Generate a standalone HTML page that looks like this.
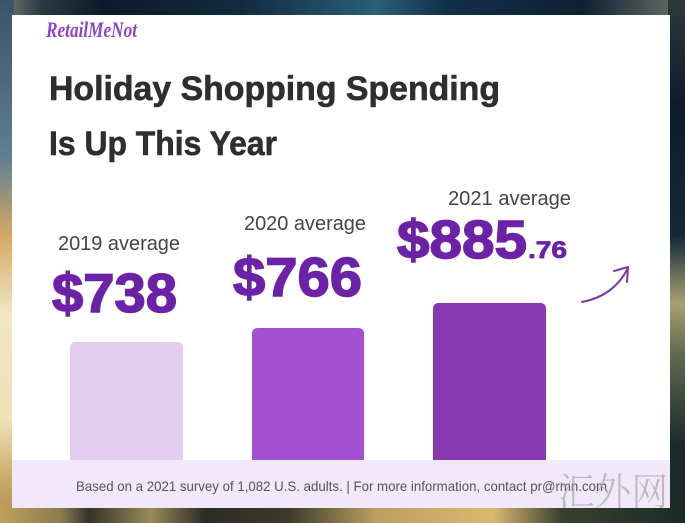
<!DOCTYPE html>
<html><head><meta charset="utf-8"><style>
html,body{margin:0;padding:0;width:685px;height:523px;overflow:hidden;background:#1c2c3a;}
svg{display:block}
</style></head><body>
<svg width="685" height="523" viewBox="0 0 685 523" xmlns="http://www.w3.org/2000/svg">
<defs>
<linearGradient id="lg" x1="0" y1="0" x2="0" y2="1">
<stop offset="0" stop-color="#3a5468"/>
<stop offset="0.3" stop-color="#5f7f90"/>
<stop offset="0.45" stop-color="#d4a864"/>
<stop offset="0.6" stop-color="#f0e6c4"/>
<stop offset="0.8" stop-color="#efe2b8"/>
<stop offset="0.92" stop-color="#c8a866"/>
<stop offset="1" stop-color="#b09050"/>
</linearGradient>
<linearGradient id="rg" x1="0" y1="0" x2="0" y2="1">
<stop offset="0" stop-color="#2a3a3c"/>
<stop offset="0.2" stop-color="#0e1c2c"/>
<stop offset="0.45" stop-color="#14283a"/>
<stop offset="0.58" stop-color="#a8a070"/>
<stop offset="0.68" stop-color="#606850"/>
<stop offset="0.85" stop-color="#1a2a2c"/>
<stop offset="1" stop-color="#1c2826"/>
</linearGradient>
<linearGradient id="tg" x1="0" y1="0" x2="1" y2="0">
<stop offset="0" stop-color="#7a8078"/>
<stop offset="0.06" stop-color="#2a3a44"/>
<stop offset="0.15" stop-color="#0c1a2a"/>
<stop offset="0.35" stop-color="#122a40"/>
<stop offset="0.55" stop-color="#2a6078"/>
<stop offset="0.65" stop-color="#12304a"/>
<stop offset="0.85" stop-color="#0e2034"/>
<stop offset="1" stop-color="#6a7468"/>
</linearGradient>
<linearGradient id="bg" x1="0" y1="0" x2="1" y2="0">
<stop offset="0" stop-color="#c0a058"/>
<stop offset="0.09" stop-color="#8a7a50"/>
<stop offset="0.13" stop-color="#343428"/>
<stop offset="0.22" stop-color="#9a8a58"/>
<stop offset="0.3" stop-color="#2c2c26"/>
<stop offset="0.42" stop-color="#3a3a2c"/>
<stop offset="0.55" stop-color="#bca060"/>
<stop offset="0.72" stop-color="#d8b870"/>
<stop offset="0.82" stop-color="#3a4030"/>
<stop offset="1" stop-color="#1c2a26"/>
</linearGradient>
</defs>
<rect x="0" y="0" width="685" height="523" fill="#1c2c3a"/>
<rect x="0" y="0" width="685" height="20" fill="url(#tg)"/>
<rect x="0" y="0" width="14" height="523" fill="url(#lg)"/>
<rect x="668" y="0" width="17" height="523" fill="url(#rg)"/>
<rect x="0" y="505" width="685" height="18" fill="url(#bg)"/>

<!-- card -->
<rect x="12" y="15" width="658" height="493" fill="#ffffff"/>
<rect x="12" y="460" width="658" height="48" fill="#f1e8f9"/>

<!-- logo -->
<text x="46" y="37" font-family="Liberation Serif, serif" font-style="italic" font-weight="bold" font-size="22" fill="#8e44c4" textLength="91" lengthAdjust="spacingAndGlyphs">RetailMeNot</text>

<!-- title -->
<text x="49" y="100" font-family="Liberation Sans, sans-serif" font-weight="bold" font-size="34" fill="#2e2e2e" stroke="#2e2e2e" stroke-width="0.6" textLength="451" lengthAdjust="spacingAndGlyphs">Holiday Shopping Spending</text>
<text x="49" y="155" font-family="Liberation Sans, sans-serif" font-weight="bold" font-size="34" fill="#2e2e2e" stroke="#2e2e2e" stroke-width="0.6" textLength="228" lengthAdjust="spacingAndGlyphs">Is Up This Year</text>

<!-- labels -->
<text x="58" y="250" font-family="Liberation Sans, sans-serif" font-size="20" fill="#444444" textLength="122" lengthAdjust="spacingAndGlyphs">2019 average</text>
<text x="244" y="230" font-family="Liberation Sans, sans-serif" font-size="20" fill="#444444" textLength="122" lengthAdjust="spacingAndGlyphs">2020 average</text>
<text x="448" y="205" font-family="Liberation Sans, sans-serif" font-size="20" fill="#444444" textLength="123" lengthAdjust="spacingAndGlyphs">2021 average</text>

<!-- values -->
<text x="52" y="312" font-family="Liberation Sans, sans-serif" font-weight="bold" font-size="55" fill="#6c22a6" stroke="#6c22a6" stroke-width="1.5" textLength="125" lengthAdjust="spacingAndGlyphs">$738</text>
<text x="233" y="296" font-family="Liberation Sans, sans-serif" font-weight="bold" font-size="55" fill="#6c22a6" stroke="#6c22a6" stroke-width="1.5" textLength="129" lengthAdjust="spacingAndGlyphs">$766</text>
<text x="397" y="258" font-family="Liberation Sans, sans-serif" font-weight="bold" font-size="54" fill="#6c22a6" stroke="#6c22a6" stroke-width="1.5" textLength="130" lengthAdjust="spacingAndGlyphs">$885</text>
<text x="528" y="258" font-family="Liberation Sans, sans-serif" font-weight="bold" font-size="24" fill="#6c22a6" stroke="#6c22a6" stroke-width="0.8" textLength="39" lengthAdjust="spacingAndGlyphs">.76</text>

<!-- arrow -->
<path d="M582,302 Q614,296 628,268" fill="none" stroke="#7a3aa8" stroke-width="2" stroke-linecap="round"/>
<path d="M614,271 L628,267 L627,282" fill="none" stroke="#7a3aa8" stroke-width="2" stroke-linecap="round" stroke-linejoin="round"/>

<!-- bars -->
<path d="M70,460 V348 Q70,342 76,342 H177 Q183,342 183,348 V460 Z" fill="#e2cdf0"/>
<path d="M252,460 V334 Q252,328 258,328 H358 Q364,328 364,334 V460 Z" fill="#a550d2"/>
<path d="M433,460 V309 Q433,303 439,303 H540 Q546,303 546,309 V460 Z" fill="#8838b0"/>

<!-- footer -->
<text x="76" y="491" font-family="Liberation Sans, sans-serif" font-size="14" fill="#555555" textLength="531" lengthAdjust="spacingAndGlyphs">Based on a 2021 survey of 1,082 U.S. adults. | For more information, contact pr@rmn.com</text>

<!-- watermark -->
<text x="558" y="505" font-family="Noto Serif CJK SC, Noto Sans CJK SC, serif" font-weight="300" font-size="38" fill="#a8a8a8" fill-opacity="0.75" textLength="110" lengthAdjust="spacingAndGlyphs">汇外网</text>
</svg>
</body></html>
